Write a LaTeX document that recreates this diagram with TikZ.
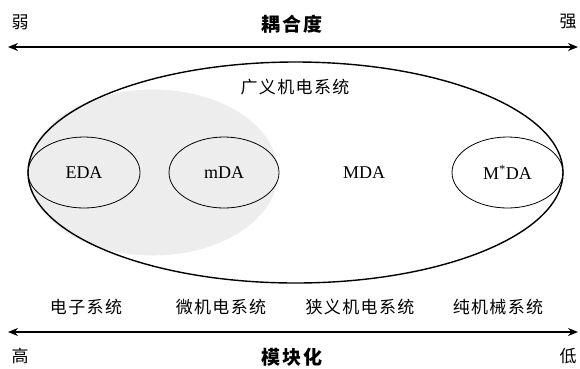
\documentclass[tikz,border=0pt]{standalone}
\usepackage{fontspec}
\setmainfont{Liberation Serif}
\newfontfamily\cjk[LetterSpace=8]{Noto Sans CJK SC}
\usetikzlibrary{shapes.geometric,arrows.meta}
\tikzstyle{sysarea}=[ellipse,draw=black,line width=0.8pt,inner sep=0pt,font=\fontsize{18}{18}\selectfont]
\tikzstyle{zh}=[font=\cjk\fontsize{17}{17}\selectfont,inner sep=0pt]
\tikzstyle{zhbold}=[font=\cjk\bfseries\fontsize{19}{19}\selectfont,inner sep=0pt]
\tikzstyle{axisline}=[{Stealth[length=10pt,width=8pt]}-{Stealth[length=10pt,width=8pt]},line width=1.6pt]

\begin{document}
\begin{tikzpicture}[x=1pt,y=-1pt]
\useasboundingbox (0,0) rectangle (580,368);

%Domains
    \node[ellipse,fill=black!7,minimum width=250pt,minimum height=166pt] (micro) at (153,172.5) {};
    \node[sysarea,line width=1.4pt,minimum width=535pt,minimum height=221pt] (sys) at (295.5,172.5) {};
    \foreach \pos/\name/\w/\label in {{(84,172.5)/eda/112/EDA}, {(224,172.5)/mda/110/mDA}, {(507.5,172.5)/mstar/111/M\textsuperscript{*}DA}}
        \node[sysarea,minimum width=\w pt,minimum height=71pt] (\name) at \pos {\label};
    \node[sysarea,draw=none] (macro) at (364,172.5) {MDA};
    \node[zh] (broad) at (295,87) {广义机电系统};

%Axes
    \coordinate (tl) at (8,47);
    \coordinate (tr) at (578,47);
    \coordinate (bl) at (8,332);
    \coordinate (br) at (578,332);
    \draw[axisline] (tl) -- (tr);
    \draw[axisline] (bl) -- (br);

    \foreach \pos/\name/\label in {{(20,22)/weak/弱}, {(568,22)/strong/强}, {(20,356)/high/高}, {(568,356)/low/低},
        {(86,307)/elec/电子系统}, {(221,307)/mems/微机电系统}, {(360,307)/narrow/狭义机电系统}, {(498,307)/mech/纯机械系统}}
        \node[zh] (\name) at \pos {\label};
    \node[zhbold] (coupling) at (292,24) {耦合度};
    \node[zhbold] (modular) at (292,357) {模块化};

\end{tikzpicture}
\end{document}
